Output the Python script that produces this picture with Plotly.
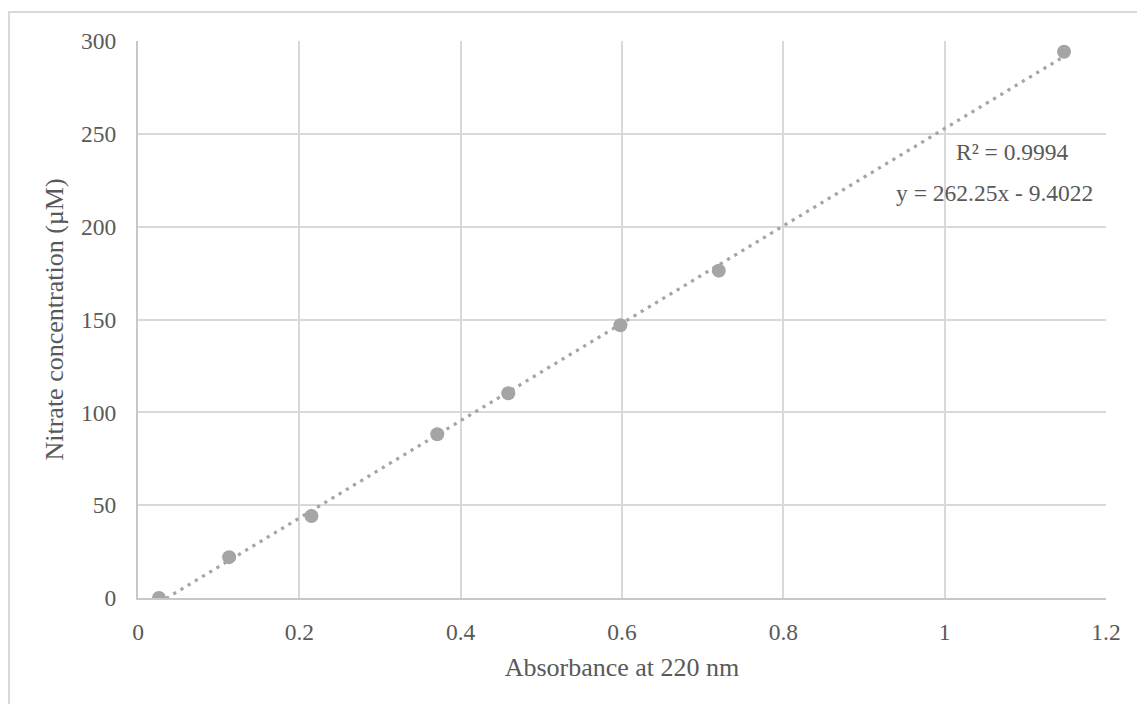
import numpy as np
import plotly.graph_objects as go

# Calibration standards: absorbance at 220 nm vs nitrate concentration
absorbance = [0.026, 0.113, 0.215, 0.371, 0.459, 0.598, 0.720, 1.148]
nitrate_um = [0.0, 22.0, 44.2, 88.2, 110.3, 146.9, 176.3, 294.2]

# Linear trendline reported for the standards
slope = 262.25
intercept = -9.4022
r_squared = 0.9994

x_ticks = [0, 0.2, 0.4, 0.6, 0.8, 1, 1.2]
x_tick_text = ["0", "0.2", "0.4", "0.6", "0.8", "1", "1.2"]
y_ticks = [0, 50, 100, 150, 200, 250, 300]

GREY_MARK = "#a5a5a5"
GREY_TEXT = "#595959"
GRID = "#d9d9d9"
AXIS_LINE = "#c8c8c8"
FONT = "Liberation Serif, Times New Roman, serif"
TICK_SIZE = 23.5
TITLE_SIZE = 26

# Plot-area geometry in pixels, used to place the labels and the outer frame
PLOT_L, PLOT_R, PLOT_T, PLOT_B = 138, 1106, 41, 598
PW, PH = PLOT_R - PLOT_L, PLOT_B - PLOT_T


def px_to_paper(px, py):
    return (px - PLOT_L) / PW, (PLOT_B - py) / PH


x_fit = np.array([min(absorbance), max(absorbance)])
y_fit = slope * x_fit + intercept

fig = go.Figure()

# Dotted linear trendline
fig.add_trace(go.Scatter(
    x=x_fit, y=y_fit, mode="lines",
    line=dict(color=GREY_MARK, width=3.2, dash="3.2px,5.2px"),
    hoverinfo="skip", showlegend=False,
))

# Measured standards
fig.add_trace(go.Scatter(
    x=absorbance, y=nitrate_um, mode="markers",
    marker=dict(color=GREY_MARK, size=14, line=dict(width=0)),
    showlegend=False,
))

rx, ry = px_to_paper(1012, 152)
fig.add_annotation(
    x=rx, y=ry, xref="paper", yref="paper", xanchor="center", yanchor="middle",
    text=f"R² = {r_squared:.4f}", showarrow=False,
    font=dict(family=FONT, size=TICK_SIZE, color=GREY_TEXT),
)
ex, ey = px_to_paper(994.5, 193)
fig.add_annotation(
    x=ex, y=ey, xref="paper", yref="paper", xanchor="center", yanchor="middle",
    text=f"y = {slope}x - {abs(intercept)}", showarrow=False,
    font=dict(family=FONT, size=TICK_SIZE, color=GREY_TEXT),
)

# Light frame around the whole chart area
fx0, fy1 = px_to_paper(9, 12)
fig.add_shape(
    type="rect", xref="paper", yref="paper",
    x0=fx0, x1=1.2, y0=-0.3, y1=fy1,
    line=dict(color=GRID, width=2), fillcolor="rgba(0,0,0,0)", layer="below",
)

fig.update_xaxes(
    range=[0, 1.2], tickvals=x_ticks, ticktext=x_tick_text,
    showgrid=True, gridcolor=GRID, gridwidth=2,
    showline=True, linecolor=AXIS_LINE, linewidth=2, mirror=False,
    zeroline=False, ticks="", ticklabelstandoff=12,
    tickfont=dict(family=FONT, size=TICK_SIZE, color=GREY_TEXT),
    title=dict(text="Absorbance at 220 nm", standoff=14,
               font=dict(family=FONT, size=TITLE_SIZE, color=GREY_TEXT)),
)
fig.update_yaxes(
    range=[0, 300], tickvals=y_ticks,
    showgrid=True, gridcolor=GRID, gridwidth=2,
    showline=True, linecolor=AXIS_LINE, linewidth=2,
    zeroline=False, ticks="", ticklabelstandoff=15,
    tickfont=dict(family=FONT, size=TICK_SIZE, color=GREY_TEXT),
    title=dict(text="Nitrate concentration (µM)", standoff=10,
               font=dict(family=FONT, size=TITLE_SIZE, color=GREY_TEXT)),
)

fig.update_layout(
    width=1137, height=704,
    margin=dict(l=PLOT_L, r=1137 - PLOT_R, t=PLOT_T, b=704 - PLOT_B,
                autoexpand=False),
    paper_bgcolor="white", plot_bgcolor="white",
)

fig.write_html("out.html")
